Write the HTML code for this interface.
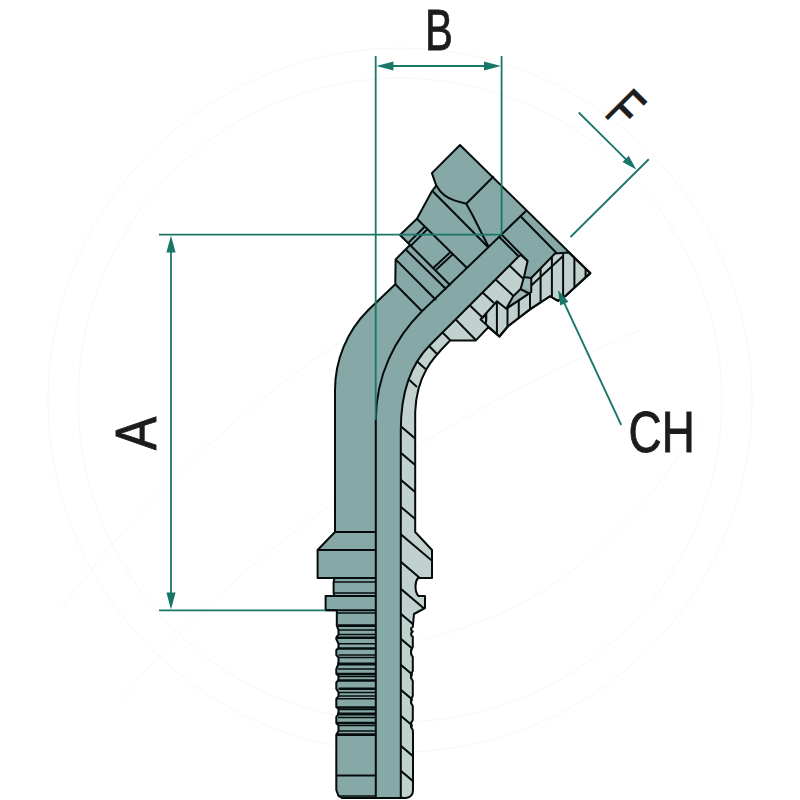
<!DOCTYPE html>
<html><head><meta charset="utf-8"><title>fitting</title>
<style>html,body{margin:0;padding:0;background:#fff;}svg{display:block}</style></head>
<body>
<svg width="800" height="800" viewBox="0 0 800 800">
<rect width="800" height="800" fill="#ffffff"/>
<g fill="none" stroke="#f7f7f7" stroke-width="1"><circle cx="400" cy="400" r="352"/><circle cx="400" cy="400" r="322"/><path d="M60,610 Q230,380 500,250 M120,700 Q300,480 640,330 M420,640 Q600,600 700,420"/></g>
<path d="M342.00,798.00 L338.50,796.00 L336.30,790.00 L336.30,734.50 L338.50,731.00 L338.50,725.60 L336.30,723.00 L336.30,717.00 L338.50,713.75 L338.50,709.00 L336.30,707.00 L336.30,698.75 L338.50,696.00 L338.50,692.50 L336.30,688.75 L336.30,682.50 L338.50,680.00 L338.50,676.00 L336.30,673.75 L336.30,669.00 L338.50,663.75 L338.50,657.50 L336.30,655.00 L336.30,650.00 L338.50,648.00 L338.50,643.75 L336.30,639.00 L336.30,637.50 L338.50,634.40 L338.50,630.00 L336.80,625.60 L336.80,613.00 L336.80,610.30 L325.60,610.30 L325.60,596.00 L334.50,596.00 L333.60,593.00 L333.60,582.00 L334.50,578.00 L317.60,578.00 L317.60,550.00 L335.00,532.00 L335.00,410.00 L335,391 A113,113 0 0 1 368.3,310 L395.3,284.3 L395.6,259.4 L410,245 L400,235 L416.9,218.75 L431.9,191.25 L436.25,185.6 L431.9,173.1 L460,145 L590.5,273.3 L566,295.6 L558,300.8 L550,296.25 L530,309.4 L518.75,318 L508,326.25 L499.4,336.5 L488.3,327.2 L475.6,340.6 L450,340.6 C436,355 416.6,372 415.2,412 L415.2,532 L432,550 L432,578 L418,578 C414.6,582 414.6,592 418.5,596 L425,596 L425,608 L414,614 L412.8,627 L411.2,628 L411.2,630.5 L412.8,631.5 L411.2,633 L411.2,635.5 L412.8,636.5 L412.8,640 L412.8,647 L411.0,650 L411.0,654 L412.8,657 L412.8,671 L411.0,674 L411.0,678 L412.8,681 L412.8,696 L411.0,699 L411.0,703 L412.8,706 L412.8,720 L411.0,723 L411.0,727 L412.8,730 L413,734 L413,790 Q413,797 406,798 Z" fill="#86a8a7" stroke="none"/>
<path d="M400.8,798 L400.8,430 C400.8,395 410,365 430,345 L518,257 L521,255 L527.6,261 L524,277 L520.6,289 L513,296.5 L506.25,308.75 L497,301.25 L480.6,319.4 L488.3,327.2 L475.6,340.6 L450,340.6 C436,355 416.6,372 415.2,412 L415.2,532 L432,550 L432,578 L418,578 C414.6,582 414.6,592 418.5,596 L425,596 L425,608 L414,614 L412.8,627 L412.8,734 L413,790 Q413,797 406,798 Z" fill="#c1d1ce"/>
<path d="M590.00,273.00 L568.75,252.50 L555.00,253.50 L531.25,278.00 L531.25,292.00 L506.25,308.75 L497.00,301.25 L480.60,319.40 L499.40,336.50 L508.00,326.25 L518.75,318.00 L530.00,309.40 L550.00,296.25 L558.00,300.80 L566.00,295.60 Z" fill="#c1d1ce"/>
<path d="M506.25,308.75 L528.75,293.75 L523.75,286.00 L520.60,289.00 L513.00,296.50 Z" fill="#9fb8b8"/>
<path d="M523.75,276.90 L531.25,278.00 L531.25,291.50 L522.50,286.00 Z" fill="#9fb8b8"/>
<clipPath id="cw"><path d="M400.8,798 L400.8,430 C400.8,395 410,365 430,345 L518,257 L521,255 L527.6,261 L524,277 L520.6,289 L513,296.5 L506.25,308.75 L497,301.25 L480.6,319.4 L488.3,327.2 L475.6,340.6 L450,340.6 C436,355 416.6,372 415.2,412 L415.2,532 L432,550 L432,578 L418,578 C414.6,582 414.6,592 418.5,596 L425,596 L425,608 L414,614 L412.8,627 L412.8,734 L413,790 Q413,797 406,798 Z"/></clipPath>
<clipPath id="cn"><path d="M590.00,273.00 L568.75,252.50 L555.00,253.50 L531.25,278.00 L531.25,292.00 L506.25,308.75 L497.00,301.25 L480.60,319.40 L499.40,336.50 L508.00,326.25 L518.75,318.00 L530.00,309.40 L550.00,296.25 L558.00,300.80 L566.00,295.60 Z"/></clipPath>
<path d="M518.75,240 L518.75,345 M530,240 L530,345 M540.6,240 L540.6,345 M551.9,240 L551.9,345 M563.1,240 L563.1,345 M574.4,240 L574.4,345 M585.6,240 L585.6,345 M507.5,240 L507.5,345 M496.9,240 L496.9,345 M486,240 L486,345 " stroke="#060c0c" stroke-width="2.0" fill="none" clip-path="url(#cn)"/>
<path d="M399,424.8 L436,456.2 M399,451.3 L436,482.7 M399,478.3 L436,509.7 M399,505.3 L436,536.7 M399,532.8 L436,564.2 M399,560.3 L436,591.7 M399,587.3 L436,618.7 M399,612.3 L436,643.7 M399,637.3 L436,668.7 M399,663.3 L436,694.7 M399,688.3 L436,719.7 M399,714.3 L436,745.7 M399,744.3 L436,775.7 M399,769.3 L436,800.7 M399,795.3 L436,826.7 M482.5,292.5 L494,303 M469.4,305 L483,318 M455.6,319.4 L476.5,340.8 M442.5,332.5 L451,341 M429.4,346.25 L437.5,354.5 M416.9,361.25 L425.5,369 M409.4,380 L417,387 M509.4,265.6 L523,278.5 M495.6,279.4 L513.5,296 " stroke="#060c0c" stroke-width="2.0" fill="none" clip-path="url(#cw)"/>
<path d="M342.00,798.00 L338.50,796.00 L336.30,790.00 L336.30,734.50 L338.50,731.00 L338.50,725.60 L336.30,723.00 L336.30,717.00 L338.50,713.75 L338.50,709.00 L336.30,707.00 L336.30,698.75 L338.50,696.00 L338.50,692.50 L336.30,688.75 L336.30,682.50 L338.50,680.00 L338.50,676.00 L336.30,673.75 L336.30,669.00 L338.50,663.75 L338.50,657.50 L336.30,655.00 L336.30,650.00 L338.50,648.00 L338.50,643.75 L336.30,639.00 L336.30,637.50 L338.50,634.40 L338.50,630.00 L336.80,625.60 L336.80,613.00 L336.80,610.30 L325.60,610.30 L325.60,596.00 L334.50,596.00 L333.60,593.00 L333.60,582.00 L334.50,578.00 L317.60,578.00 L317.60,550.00 L335.00,532.00 L335.00,410.00 L335,391 A113,113 0 0 1 368.3,310 L395.3,284.3 L395.6,259.4 L410,245 L400,235 L416.9,218.75 L431.9,191.25 L436.25,185.6 L431.9,173.1 L460,145 L590.5,273.3 L566,295.6 L558,300.8 L550,296.25 L530,309.4 L518.75,318 L508,326.25 L499.4,336.5 L488.3,327.2 L475.6,340.6 L450,340.6 C436,355 416.6,372 415.2,412 L415.2,532 L432,550 L432,578 L418,578 C414.6,582 414.6,592 418.5,596 L425,596 L425,608 L414,614 L412.8,627 L411.2,628 L411.2,630.5 L412.8,631.5 L411.2,633 L411.2,635.5 L412.8,636.5 L412.8,640 L412.8,647 L411.0,650 L411.0,654 L412.8,657 L412.8,671 L411.0,674 L411.0,678 L412.8,681 L412.8,696 L411.0,699 L411.0,703 L412.8,706 L412.8,720 L411.0,723 L411.0,727 L412.8,730 L413,734 L413,790 Q413,797 406,798 Z" fill="none" stroke="#060c0c" stroke-width="2.0" stroke-linejoin="round"/>
<path d="M590.00,273.00 L568.75,252.50 L555.00,253.50 L531.25,278.00 L531.25,292.00 L506.25,308.75 L497.00,301.25 L480.60,319.40 L499.40,336.50 L508.00,326.25 L518.75,318.00 L530.00,309.40 L550.00,296.25 L558.00,300.80 L566.00,295.60 Z" fill="none" stroke="#060c0c" stroke-width="2.0" stroke-linejoin="round"/>
<path d="M518,257 L521,255 L527.6,261 L524,277 L520.6,289 L513,296.5 L506.25,308.75" fill="none" stroke="#060c0c" stroke-width="2.0" stroke-linejoin="round"/>
<path d="M523.75,276.9 L531.25,278 M520.6,289 L529,293.5 M506.25,308.75 L528.75,293.75" fill="none" stroke="#060c0c" stroke-width="2.0"/>
<path d="M562.5,256.5 L531.25,285.5" fill="none" stroke="#060c0c" stroke-width="2.0"/>
<path d="M480.6,319.4 L486.3,314.4 L486.3,321.5" fill="none" stroke="#060c0c" stroke-width="2.0"/>
<path d="M526.9,210 L422,311.3 C395,338 376,375 375.8,420 L375.8,797 M518,257 L430,345 C410,365 400.8,395 400.8,430 L400.8,797 M502,235 L527.6,261 M499.6,237.2 L518.5,256.3 M521.25,217 L556.5,253 M436.25,185.6 C441,194 447,198.5 455,200.6 L466.25,203.75 L493.75,176.25 M466.25,203.75 L472.5,215 L481.25,232.5 L488.5,246.5 M432.2,190.8 L488.7,247.8 M416.9,218.75 L467.5,268.5 M410,245 L450.5,285.5 M406.25,250 L446.5,289.5 M395.6,259.4 L436,300 M395.3,284.3 L422,311.3 M408.6,242.6 L424.4,227 M411.2,245.4 L427,229.6 M433.75,267.5 L450,252.5 M436.25,269.6 L452.5,254.6" fill="none" stroke="#060c0c" stroke-width="2.0" stroke-linejoin="round"/>
<path d="M335,532 L375.8,532" stroke="#060c0c" stroke-width="2" fill="none"/>
<path d="M317.6,550 L375.8,550" stroke="#060c0c" stroke-width="2" fill="none"/>
<path d="M334,582 L375.8,582" stroke="#060c0c" stroke-width="1.6" fill="none"/>
<path d="M334,593 L375.8,593" stroke="#060c0c" stroke-width="1.6" fill="none"/>
<path d="M337,613 L375.8,613" stroke="#060c0c" stroke-width="1.6" fill="none"/>
<path d="M338,625.6 L375.8,625.6" stroke="#060c0c" stroke-width="2.6" fill="none"/>
<path d="M338.5,630 L375.8,630" stroke="#060c0c" stroke-width="1.5" fill="none"/>
<path d="M338.5,634.4 L375.8,634.4" stroke="#060c0c" stroke-width="1.5" fill="none"/>
<path d="M337,637.8 L375.8,637.8" stroke="#060c0c" stroke-width="2.4" fill="none"/>
<path d="M338.5,643.75 L375.8,643.75" stroke="#060c0c" stroke-width="1.5" fill="none"/>
<path d="M337,648.5 L375.8,648.5" stroke="#060c0c" stroke-width="2.4" fill="none"/>
<path d="M338.5,655 L375.8,655" stroke="#060c0c" stroke-width="1.5" fill="none"/>
<path d="M338.5,657.5 L375.8,657.5" stroke="#060c0c" stroke-width="1.5" fill="none"/>
<path d="M337,664 L375.8,664" stroke="#060c0c" stroke-width="3.2" fill="none"/>
<path d="M338,669 L375.8,669" stroke="#060c0c" stroke-width="1.5" fill="none"/>
<path d="M337,674 L375.8,674" stroke="#060c0c" stroke-width="2.4" fill="none"/>
<path d="M338.5,676.5 L375.8,676.5" stroke="#060c0c" stroke-width="1.4" fill="none"/>
<path d="M337,680.5 L375.8,680.5" stroke="#060c0c" stroke-width="2.4" fill="none"/>
<path d="M338.5,688.75 L375.8,688.75" stroke="#060c0c" stroke-width="2.4" fill="none"/>
<path d="M338.5,692.5 L375.8,692.5" stroke="#060c0c" stroke-width="1.5" fill="none"/>
<path d="M338.5,696 L375.8,696" stroke="#060c0c" stroke-width="1.5" fill="none"/>
<path d="M337,698.75 L375.8,698.75" stroke="#060c0c" stroke-width="1.6" fill="none"/>
<path d="M337,707.5 L375.8,707.5" stroke="#060c0c" stroke-width="2.6" fill="none"/>
<path d="M338.5,709.5 L375.8,709.5" stroke="#060c0c" stroke-width="1.4" fill="none"/>
<path d="M337,714 L375.8,714" stroke="#060c0c" stroke-width="3.2" fill="none"/>
<path d="M338,717.5 L375.8,717.5" stroke="#060c0c" stroke-width="1.4" fill="none"/>
<path d="M337,723 L375.8,723" stroke="#060c0c" stroke-width="2.4" fill="none"/>
<path d="M338.5,725.6 L375.8,725.6" stroke="#060c0c" stroke-width="1.5" fill="none"/>
<path d="M338.5,731 L375.8,731" stroke="#060c0c" stroke-width="1.5" fill="none"/>
<path d="M336.3,734.6 L375.8,734.6" stroke="#060c0c" stroke-width="2.6" fill="none"/>
<path d="M336.3,775.6 L375.8,775.6" stroke="#060c0c" stroke-width="2" fill="none"/>
<path d="M338.5,796 L375.8,796" stroke="#060c0c" stroke-width="1.6" fill="none"/>
<path d="M317.6,578 L375.8,578 M325.6,596 L375.8,596 M325.6,610.3 L375.8,610.3" stroke="#060c0c" stroke-width="2.0" fill="none"/>
<path d="M375.7,56 L375.7,420 M501.6,56 L501.6,234.7 M384,66 L493,66 M159,234.7 L501.6,234.7 M159,610.3 L325.6,610.3 M171,245 L171,600 M578.75,112.5 L632,165.3 M648.75,159.25 L570.5,237 M621.25,425 L560.5,295" stroke="#19776a" stroke-width="1.8" fill="none"/>
<path d="M376.40,66.00 L393.40,61.40 L393.40,70.60 Z M501.00,66.00 L484.00,70.60 L484.00,61.40 Z M171.00,235.50 L175.60,252.50 L166.40,252.50 Z M171.00,609.50 L166.40,592.50 L175.60,592.50 Z M636.25,169.50 L622.53,162.00 L628.75,155.78 Z M558.00,290.00 L568.53,301.63 L560.20,305.53 Z" fill="#19776a"/>
<g transform="translate(439,50) rotate(0) scale(0.72,1)"><text x="0" y="0" text-anchor="middle" font-family="Liberation Sans, sans-serif" font-size="58" fill="#1c1c1c" stroke="#1c1c1c" stroke-width="0.9">B</text></g>
<g transform="translate(156,433.3) rotate(-90) scale(0.86,1)"><text x="0" y="0" text-anchor="middle" font-family="Liberation Sans, sans-serif" font-size="58" fill="#1c1c1c" stroke="#1c1c1c" stroke-width="0.9">A</text></g>
<g transform="translate(603.3,114.8) rotate(45) scale(0.66,1)"><text x="0" y="0" text-anchor="start" font-family="Liberation Sans, sans-serif" font-size="58" fill="#1c1c1c" stroke="#1c1c1c" stroke-width="0.9">F</text></g>
<g transform="translate(661.7,452.3) rotate(0) scale(0.79,1)"><text x="0" y="0" text-anchor="middle" font-family="Liberation Sans, sans-serif" font-size="58" fill="#1c1c1c" stroke="#1c1c1c" stroke-width="0.9">CH</text></g>
</svg>
</body></html>
